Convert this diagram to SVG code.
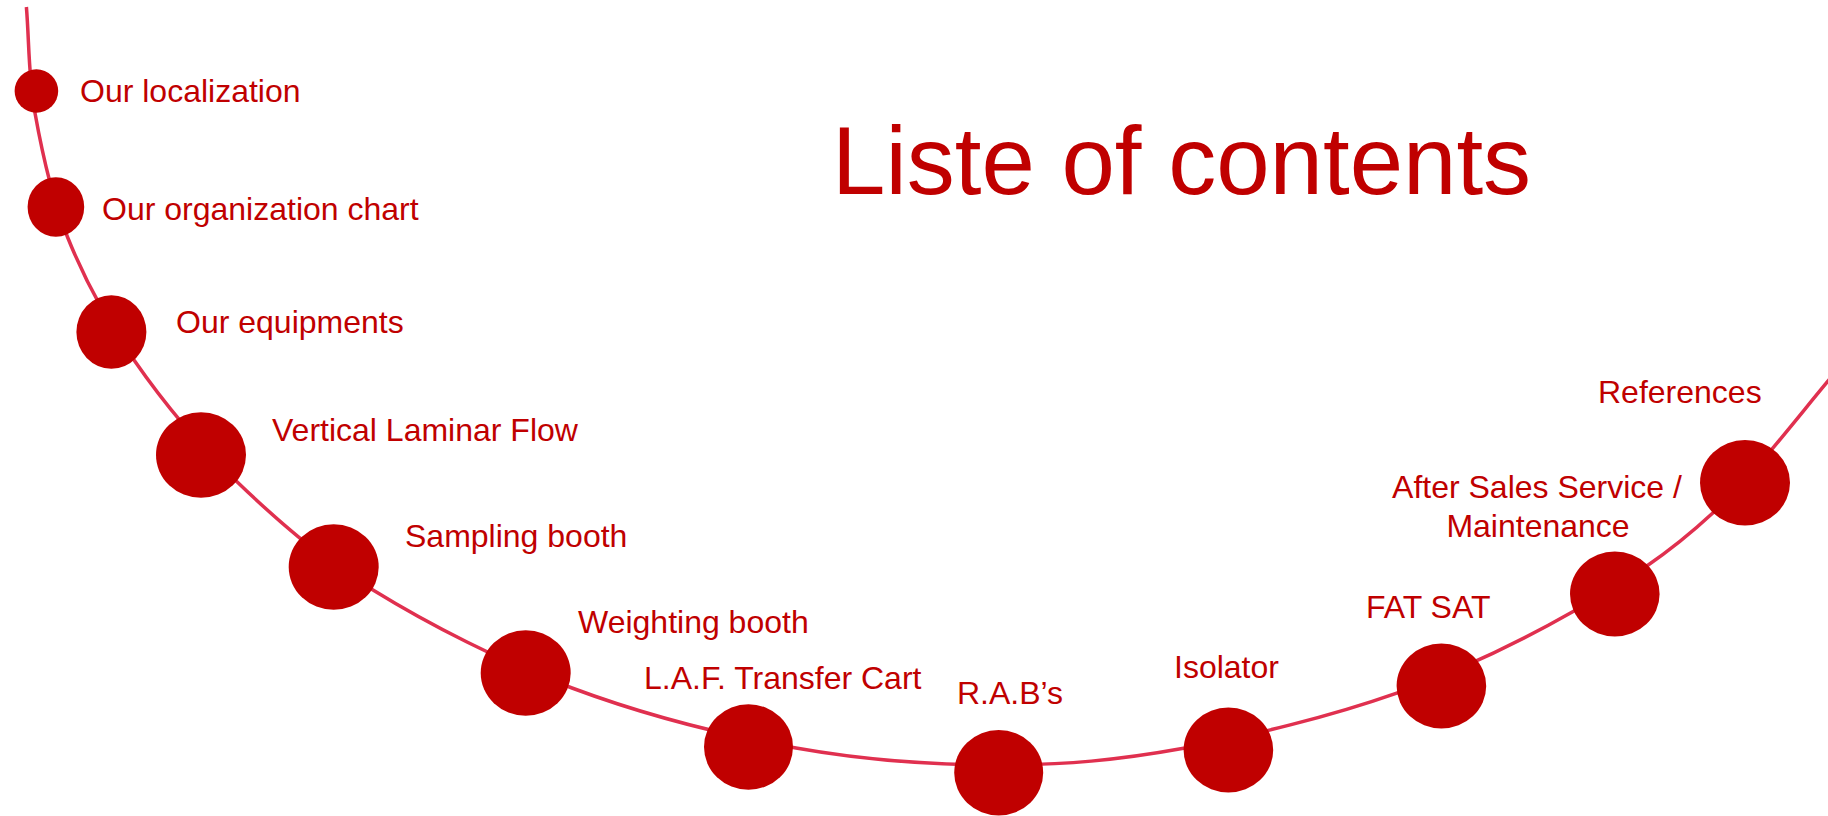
<svg xmlns="http://www.w3.org/2000/svg" width="1828" height="816" viewBox="0 0 1828 816">
<style>
.dot{fill:#C00000;}
.lbl{font-family:"Liberation Sans",Arial,sans-serif;font-size:32px;fill:#C00000;}
.title{font-family:"Liberation Sans",Arial,sans-serif;font-size:96px;fill:#C00000;}
.curve{fill:none;stroke:#E0304F;stroke-width:3.5;}
</style>
<rect width="1828" height="816" fill="#FFFFFF"/>
<g id="connectors">
<path class="curve" d="M26.4,7 C29.3,42.3 28.15,74.7 35,113 C41.85,151.3 51,195.8 67.5,237 C84,278.2 105.75,319.2 134,360 C162.25,400.8 197.2,443.4 237,481.7 C276.8,520 317.2,555.6 373,590 C428.8,624.4 501.5,661.7 572,688 C642.5,714.3 724.7,735.2 796,748 C867.3,760.8 935.4,765 1000,765 C1064.6,765 1117.6,760.25 1183.6,748.3 C1249.6,736.35 1331.15,716.1 1396,693.3 C1460.85,670.5 1519.95,641.7 1572.7,611.7 C1625.45,581.7 1666.3,556.1 1712.5,513.3 C1758.7,470.5 1804.2,407.8 1850,355"/>
</g>
<text id="title" class="title" x="832" y="194">Liste of contents</text>
<g id="n1"><ellipse class="dot" cx="36.4" cy="91" rx="21.8" ry="21.7"/><text class="lbl" x="80" y="102">Our localization</text></g>
<g id="n2"><ellipse class="dot" cx="55.9" cy="207" rx="28.3" ry="29.8"/><text class="lbl" x="102" y="220">Our organization chart</text></g>
<g id="n3"><ellipse class="dot" cx="111.4" cy="332" rx="35" ry="36.7"/><text class="lbl" x="176" y="333">Our equipments</text></g>
<g id="n4"><ellipse class="dot" cx="201" cy="455" rx="45" ry="42.8"/><text class="lbl" x="272" y="441">Vertical Laminar Flow</text></g>
<g id="n5"><ellipse class="dot" cx="333.7" cy="567" rx="45" ry="42.8"/><text class="lbl" x="405" y="547">Sampling booth</text></g>
<g id="n6"><ellipse class="dot" cx="525.7" cy="673" rx="45" ry="42.7"/><text class="lbl" x="578" y="633">Weighting booth</text></g>
<g id="n7"><ellipse class="dot" cx="748.5" cy="747" rx="44.5" ry="42.8"/><text class="lbl" x="644" y="689">L.A.F. Transfer Cart</text></g>
<g id="n8"><ellipse class="dot" cx="998.7" cy="772.7" rx="44.5" ry="42.7"/><text class="lbl" x="957" y="704">R.A.B’s</text></g>
<g id="n9"><ellipse class="dot" cx="1228.4" cy="750" rx="44.8" ry="42.5"/><text class="lbl" x="1174" y="678">Isolator</text></g>
<g id="n10"><ellipse class="dot" cx="1441.4" cy="686" rx="44.8" ry="42.5"/><text class="lbl" x="1366" y="618">FAT SAT</text></g>
<g id="n11"><ellipse class="dot" cx="1614.8" cy="594" rx="44.8" ry="42.5"/><text class="lbl" x="1537" y="498" text-anchor="middle">After Sales Service /</text><text class="lbl" x="1538" y="537" text-anchor="middle">Maintenance</text></g>
<g id="n12"><ellipse class="dot" cx="1745" cy="482.7" rx="45" ry="42.7"/><text class="lbl" x="1598" y="403">References</text></g>
</svg>
